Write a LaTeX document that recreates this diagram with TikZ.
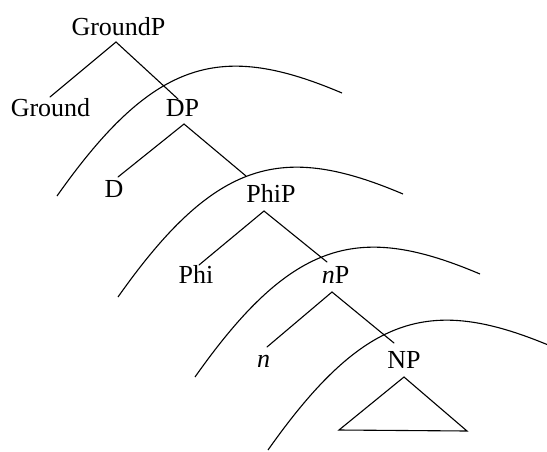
\documentclass[tikz,border=0pt]{standalone}
\usepackage{fontspec}
\setmainfont{Liberation Serif}
\usetikzlibrary{calc}
\begin{document}
\begin{tikzpicture}[x=1pt,y=-1pt,
  lbl/.style={font=\fontsize{26}{30}\selectfont, inner sep=0pt, anchor=base},
  branch/.style={line width=1.1pt, line cap=round},
  arcline/.style={line width=1.1pt},
  arcshape/.pic={\draw[arcline] (0,0) .. controls (98,-139) and (165,-154) .. (285,-103);}]
\useasboundingbox (0,0) rectangle (547,451);
\clip (0,0) rectangle (547,451);
% labels
\node[lbl] (GroundP) at (118.5,35) {GroundP};
\node[lbl] (Ground) at (50.5,116) {Ground};
\node[lbl] (DP) at (182.5,116) {DP};
\node[lbl] (D) at (114,197) {D};
\node[lbl] (PhiP) at (271,202) {PhiP};
\node[lbl] (Phi) at (196,283) {Phi};
\node[lbl] (nP) at (335.5,283) {\textit{n}P};
\node[lbl] (n) at (263.5,367) {\textit{n}};
\node[lbl] (NP) at (404,368) {NP};
% branch points
\coordinate (gpA) at (116,42);
\coordinate (gL) at (50,97);
\coordinate (gR) at (178,99);
\coordinate (dpA) at (184,124);
\coordinate (dL) at (118,177);
\coordinate (dR) at (246,176);
\coordinate (phA) at (264,211);
\coordinate (phL) at (199,265);
\coordinate (phR) at (327,262);
\coordinate (npA) at (332,292);
\coordinate (npL) at (267,347);
\coordinate (npR) at (394,343);
\coordinate (tA) at (404,377);
\coordinate (tL) at (339,430);
\coordinate (tR) at (467,431);
\draw[branch] (gL) -- (gpA) -- (gR);
\draw[branch] (dL) -- (dpA) -- (dR);
\draw[branch] (phL) -- (phA) -- (phR);
\draw[branch] (npL) -- (npA) -- (npR);
\draw[branch] (tA) -- (tL) -- (tR) -- cycle;
% arcs
\pic at (57,196) {arcshape};
\pic at (118,297) {arcshape};
\pic at (195,377) {arcshape};
\pic at (268,450) {arcshape};
\end{tikzpicture}
\end{document}
